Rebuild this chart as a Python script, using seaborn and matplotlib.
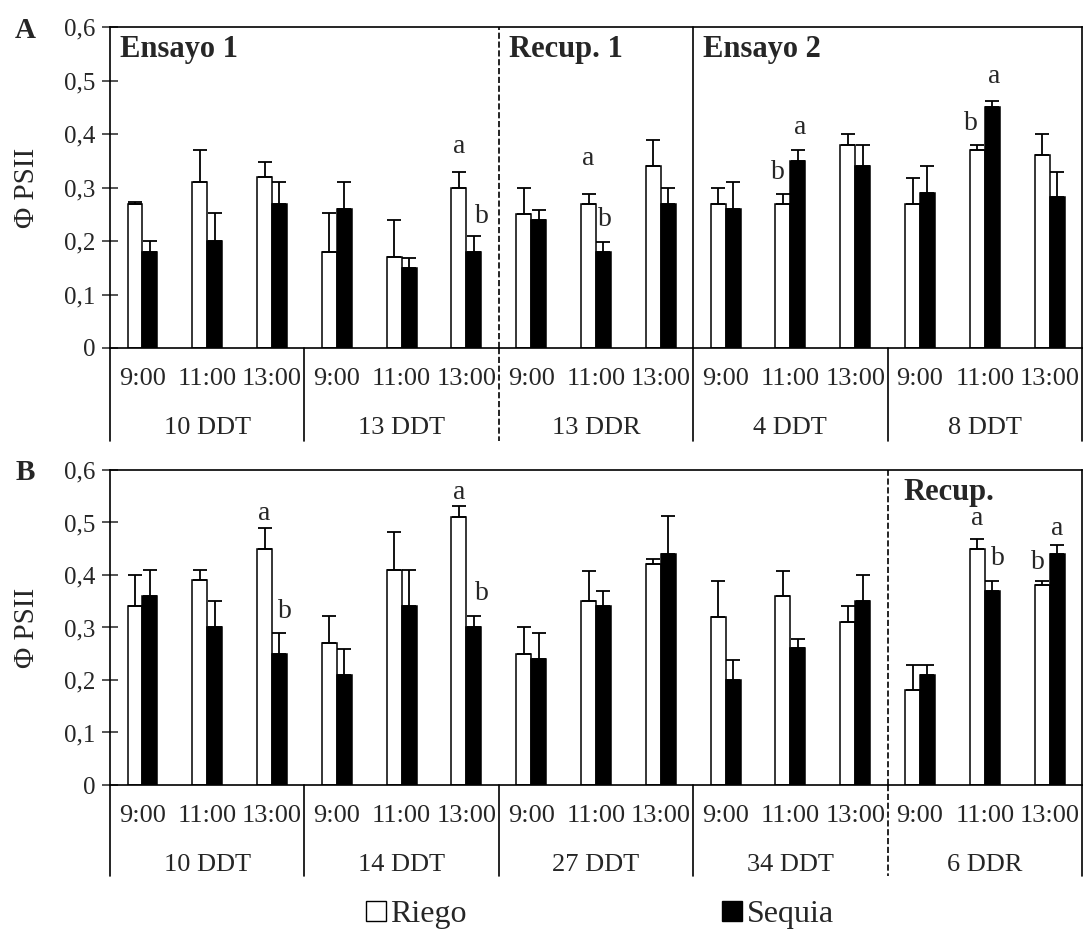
import matplotlib
matplotlib.use("Agg")
import matplotlib.pyplot as plt
import matplotlib.transforms as mtransforms
from matplotlib.patches import Patch
import seaborn as sns
import pandas as pd

# --- datos ---
times = ["9:00", "11:00", "13:00"]
series = ["Riego", "Sequia"]

days_a = ["10 DDT", "13 DDT", "13 DDR", "4 DDT", "8 DDT"]
riego_a = [0.27, 0.31, 0.32, 0.18, 0.17, 0.30, 0.25, 0.27, 0.34, 0.27, 0.27, 0.38, 0.27, 0.37, 0.36]
riego_a_top = [0.273, 0.37, 0.348, 0.252, 0.24, 0.329, 0.30, 0.288, 0.389, 0.30, 0.288, 0.40, 0.318, 0.38, 0.40]
sequia_a = [0.18, 0.20, 0.27, 0.26, 0.15, 0.18, 0.24, 0.18, 0.27, 0.26, 0.35, 0.34, 0.29, 0.45, 0.282]
sequia_a_top = [0.20, 0.252, 0.31, 0.31, 0.168, 0.21, 0.258, 0.198, 0.30, 0.31, 0.371, 0.379, 0.341, 0.462, 0.329]

days_b = ["10 DDT", "14 DDT", "27 DDT", "34 DDT", "6 DDR"]
riego_b = [0.34, 0.39, 0.45, 0.27, 0.41, 0.51, 0.25, 0.35, 0.42, 0.32, 0.36, 0.31, 0.18, 0.45, 0.38]
riego_b_top = [0.40, 0.409, 0.489, 0.321, 0.482, 0.532, 0.301, 0.408, 0.431, 0.389, 0.408, 0.34, 0.228, 0.469, 0.388]
sequia_b = [0.36, 0.30, 0.25, 0.21, 0.34, 0.30, 0.24, 0.34, 0.44, 0.20, 0.26, 0.35, 0.21, 0.37, 0.44]
sequia_b_top = [0.41, 0.35, 0.29, 0.259, 0.409, 0.321, 0.289, 0.37, 0.512, 0.239, 0.278, 0.40, 0.228, 0.389, 0.458]

# letras de significancia: (categoria, serie, letra, y, desplazamiento x)
letters_a = [(5, 0, "a", 0.376, 0.0), (5, 1, "b", 0.245, 0.12),
             (7, 0, "a", 0.354, 0.0), (7, 1, "b", 0.241, 0.03),
             (10, 0, "b", 0.329, -0.08), (10, 1, "a", 0.413, 0.03),
             (13, 0, "b", 0.419, -0.1), (13, 1, "a", 0.507, 0.03)]
letters_b = [(2, 0, "a", 0.517, 0.0), (2, 1, "b", 0.33, 0.09),
             (5, 0, "a", 0.558, 0.0), (5, 1, "b", 0.364, 0.12),
             (13, 0, "a", 0.507, 0.0), (13, 1, "b", 0.431, 0.08),
             (14, 0, "b", 0.424, -0.07), (14, 1, "a", 0.488, 0.0)]

sns.set_style("ticks")
plt.rcParams["font.family"] = ["Liberation Serif", "DejaVu Serif"]
plt.rcParams["axes.linewidth"] = 1.2


def make_df(days, riego, sequia):
    cats = [d + "|" + t for d in days for t in times]
    rows = []
    for s, vals in zip(series, [riego, sequia]):
        for c, v in zip(cats, vals):
            rows.append({"cat": c, "trat": s, "valor": v})
    return pd.DataFrame(rows), cats


def draw_panel(ax, days, riego, riego_top, sequia, sequia_top, letters,
               dashed, solid, headers, label_y):
    df, cats = make_df(days, riego, sequia)
    sns.barplot(data=df, x="cat", y="valor", hue="trat", order=cats,
                hue_order=series, palette={"Riego": "white", "Sequia": "black"},
                edgecolor="black", linewidth=1.1, width=0.46, errorbar=None,
                legend=False, ax=ax)

    tops = [riego_top, sequia_top]
    vals = [riego, sequia]
    bar_conts = list(ax.containers)
    centers = []
    for k, cont in enumerate(bar_conts):
        xs = [b.get_x() + b.get_width() / 2 for b in cont]
        centers.append(xs)
        err = [t - v for t, v in zip(tops[k], vals[k])]
        ax.errorbar(xs, vals[k], yerr=[[0] * len(err), err], fmt="none",
                    ecolor="black", elinewidth=1.3, capsize=5, capthick=1.3, zorder=3)

    for ci, si, let, y, dx in letters:
        ax.text(centers[si][ci] + dx, y, let, ha="center", va="center", fontsize=20)

    ax.set_xlim(-0.5, len(cats) - 0.5)
    ax.set_ylim(0, 0.6)
    ax.set_yticks([0, 0.1, 0.2, 0.3, 0.4, 0.5, 0.6])
    ax.set_yticklabels(["0", "0,1", "0,2", "0,3", "0,4", "0,5", "0,6"], fontsize=18)
    ax.tick_params(axis="y", direction="inout", length=11, width=1.1, pad=5)
    ax.tick_params(axis="x", length=0)
    ax.set_xticklabels([])
    ax.set_xlabel("")
    ax.set_ylabel("\u03a6 PSII", fontsize=21)
    ax.yaxis.set_label_coords(-0.072, 0.5)
    for sp in ax.spines.values():
        sp.set_visible(True)
        sp.set_color("black")

    trans = mtransforms.blended_transform_factory(ax.transData, ax.transAxes)
    for i, c in enumerate(cats):
        ax.text(i, -0.097, c.split("|")[1], transform=trans, ha="center",
                va="center", fontsize=19)
    for j, d in enumerate(days):
        ax.text(3 * j + 1, label_y, d, transform=trans, ha="center",
                va="center", fontsize=19)

    for j in range(len(days) + 1):
        xb = 3 * j - 0.5
        ls = "--" if xb in dashed else "-"
        ax.plot([xb, xb], [0, -0.29], transform=trans, color="black",
                lw=1.2, ls=ls, clip_on=False)
        if xb in dashed or xb in solid:
            ax.plot([xb, xb], [0, 1], transform=trans, color="black",
                    lw=1.2, ls=ls, clip_on=False)

    for xh, txt in headers:
        ax.text(xh, 0.975, txt, transform=trans, ha="left", va="top",
                fontsize=22, fontweight="bold")


fig = plt.figure(figsize=(10.87, 9.39), dpi=100)
ax_a = fig.add_axes([0.1012, 0.6294, 0.8942, 0.3418])
ax_b = fig.add_axes([0.1012, 0.1640, 0.8942, 0.3355])

draw_panel(ax_a, days_a, riego_a, riego_a_top, sequia_a, sequia_a_top, letters_a,
           dashed=[5.5], solid=[8.5],
           headers=[(-0.35, "Ensayo 1"), (5.65, "Recup. 1"), (8.65, "Ensayo 2")],
           label_y=-0.25)
draw_panel(ax_b, days_b, riego_b, riego_b_top, sequia_b, sequia_b_top, letters_b,
           dashed=[11.5], solid=[],
           headers=[(11.75, "Recup.")], label_y=-0.254)

fig.text(0.014, 0.967, "A", fontsize=21, fontweight="bold", va="center")
fig.text(0.014, 0.497, "B", fontsize=21, fontweight="bold", va="center")

handles = [Patch(facecolor="white", edgecolor="black", label="Riego"),
           Patch(facecolor="black", edgecolor="black", label="Sequia")]
fig.legend(handles=handles, loc="center", bbox_to_anchor=(0.552, 0.026), ncol=2,
           frameon=False, fontsize=23, handlelength=0.6, handleheight=0.6,
           handletextpad=0.15, columnspacing=8.0)

fig.savefig("out.png", dpi=100)
